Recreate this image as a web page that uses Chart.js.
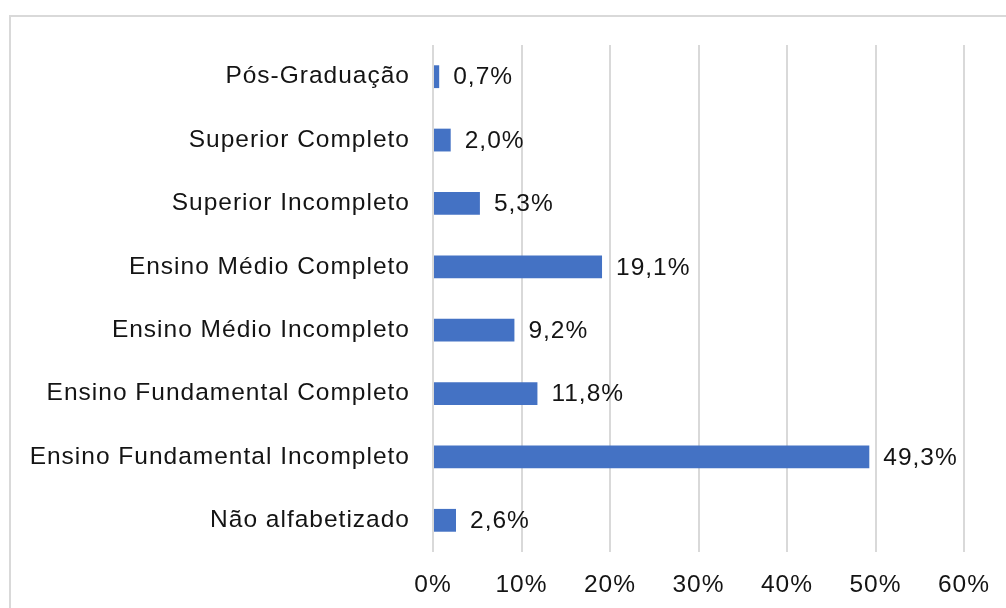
<!DOCTYPE html>
<html>
<head>
<meta charset="utf-8">
<script src="https://cdn.jsdelivr.net/npm/chart.js@4/dist/chart.umd.min.js"></script>
<style>
  body { margin: 0; background: #fff; }
  #wrap { position: relative; width: 1006px; height: 608px; overflow: hidden; }
  #frame { position: absolute; left: 9px; top: 15px; width: 1100px; height: 700px;
           border-top: 2px solid #d9d9d9; border-left: 2px solid #d9d9d9; }
  #chart { position: absolute; left: 0; top: 0; }
</style>
</head>
<body>
<div id="wrap">
  <div id="frame"></div>
  <canvas id="chart" width="1006" height="608"></canvas>
</div>
<script>
"use strict";

const categories = [
  "Pós-Graduação",
  "Superior Completo",
  "Superior Incompleto",
  "Ensino Médio Completo",
  "Ensino Médio Incompleto",
  "Ensino Fundamental Completo",
  "Ensino Fundamental Incompleto",
  "Não alfabetizado"
];
const percentages = [0.7, 2.0, 5.3, 19.1, 9.2, 11.8, 49.3, 2.6];
const xTicks = [0, 10, 20, 30, 40, 50, 60];

const textColor = "#141414";
const fontFamily = "'Liberation Sans', Arial, sans-serif";
const fontSize = 24.5;

// Excel-ish spaced text (canvas resets on resize, so set it before each draw)
const spacingPlugin = {
  id: "spacing",
  beforeLayout(chart) {
    chart.ctx.letterSpacing = "1px";
  },
  beforeDraw(chart) {
    chart.ctx.letterSpacing = "1px";
  }
};

const valueLabels = {
  id: "valueLabels",
  afterDatasetsDraw(chart) {
    const ctx = chart.ctx;
    const meta = chart.getDatasetMeta(0);
    ctx.save();
    ctx.letterSpacing = "1px";
    ctx.font = fontSize + "px " + fontFamily;
    ctx.fillStyle = textColor;
    ctx.textAlign = "left";
    ctx.textBaseline = "middle";
    meta.data.forEach((bar, i) => {
      const txt = percentages[i].toFixed(1).replace(".", ",") + "%";
      ctx.fillText(txt, bar.x + 14, bar.y + 1);
    });
    ctx.restore();
  }
};

function renderChart() {
  let canvasElem = document.getElementById("chart");

  let chartObj = {
    type: "bar",
    data: {
      labels: categories,
      datasets: [
        {
          data: percentages,
          backgroundColor: "#4472c4",
          borderWidth: 0,
          categoryPercentage: 1,
          barPercentage: 0.36,
        },
      ],
    },
    options: {
      indexAxis: "y",
      responsive: false,
      animation: false,
      layout: { padding: { top: 45, right: 42, left: 0, bottom: 0 } },
      scales: {
        x: {
          min: 0,
          max: 60,
          afterBuildTicks(scale) {
            scale.ticks = xTicks.map(v => ({ value: v }));
          },
          afterFit(scale) {
            scale.height = 56;
            scale.paddingLeft = 0;
            scale.paddingRight = 0;
          },
          grid: { color: "#d9d9d9", lineWidth: 2, drawTicks: false },
          border: { display: false },
          ticks: {
            color: textColor,
            padding: 19,
            font: { size: fontSize, family: fontFamily },
            callback: v => v + "%",
          },
        },
        y: {
          afterFit(scale) {
            scale.width = 433;
          },
          grid: { display: false, drawTicks: false },
          border: { display: false },
          ticks: {
            color: textColor,
            padding: 23,
            font: { size: fontSize, family: fontFamily },
          },
        },
      },
      plugins: {
        legend: { display: false },
        tooltip: { enabled: false },
      },
    },
    plugins: [spacingPlugin, valueLabels],
  };
  new Chart(canvasElem, chartObj);
}

renderChart();
</script>
</body>
</html>
